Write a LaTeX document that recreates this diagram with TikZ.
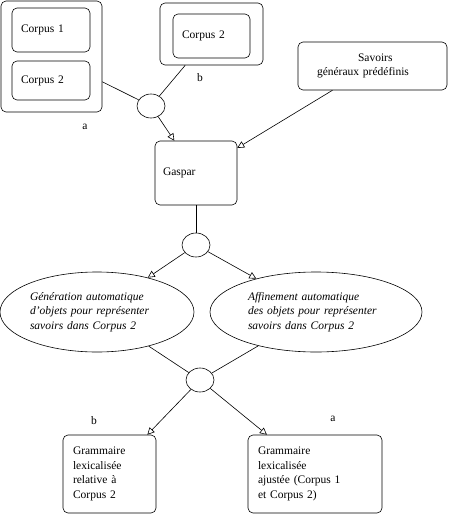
\documentclass[tikz,border=0pt]{standalone}
\usepackage{fontspec}
\setmainfont{Liberation Serif}
\usepackage{tikz}
\usetikzlibrary{positioning}
\usetikzlibrary{calc,arrows.meta}
\usetikzlibrary{shapes.geometric}

\begin{document}
\begin{tikzpicture}[x=1pt, y=-1pt,
    every node/.style={font=\fontsize{11.5}{14.5}\selectfont},
    box/.style={draw, rounded corners=5pt, line width=0.6pt, inner sep=0pt, align=left},
    joint/.style={draw, ellipse, minimum width=28pt, minimum height=24pt, inner sep=0pt, line width=0.6pt},
    task/.style={draw, ellipse, inner sep=0pt, minimum height=80pt, align=left,
        line width=0.6pt, font=\fontsize{11.5}{14.5}\selectfont\itshape},
    flow/.style={line width=0.6pt, -{Triangle[open, length=7pt, width=7pt]}},
    link/.style={line width=0.6pt}]
    \useasboundingbox (0,0) rectangle (453,516);

    % Draw corpus boxes
    \node[box, minimum width=101pt, minimum height=111pt] (outA) at (51.5,56.5) {};
    \node[box, minimum width=78pt, minimum height=44pt, text width=60pt] (corpA1) at (51,30) {Corpus 1};
    \node[box, minimum width=78pt, minimum height=39pt, text width=60pt] (corpA2) at (51,80.5) {Corpus 2};
    \node[box, minimum width=103pt, minimum height=62pt] (outB) at (211.5,34) {};
    \node[box, minimum width=77pt, minimum height=44pt, text width=59pt] (corpB2) at (211.5,36) {Corpus 2};
    \node (labA) at (85,127) {a};
    \node (labB) at (200,78) {b};

    % Draw knowledge and Gaspar
    \node[box, minimum width=149pt, minimum height=48pt, text width=111pt] (savoirs) at (372.5,66)
        {\hspace*{41pt}Savoirs\\généraux prédéfinis};
    \node[box, minimum width=82pt, minimum height=64pt, text width=66pt] (gaspar) at (196,173) {Gaspar};

    % Draw joints
    \node[joint] (j1) at (151,106) {};
    \node[joint] (j2) at (196,245) {};
    \node[joint] (j3) at (200,380) {};

    % Draw tasks
    \node[task, minimum width=194pt, text width=134pt] (gen) at (97,312)
        {Génération automatique\\d'objets pour représenter\\savoirs dans Corpus 2};
    \node[task, minimum width=212pt, text width=136pt] (aff) at (316,312)
        {Affinement automatique\\des objets pour représenter\\savoirs dans Corpus 2};

    % Draw grammars
    \node[box, minimum width=93pt, minimum height=78pt, text width=73pt] (gramB) at (109.5,474)
        {Grammaire\\lexicalisée\\relative à\\Corpus 2};
    \node[box, minimum width=134pt, minimum height=78pt, text width=114pt] (gramA) at (315,474)
        {Grammaire\\lexicalisée\\ajustée (Corpus 1\\et Corpus 2)};
    \node (labB2) at (94,421) {b};
    \node (labA2) at (333,419) {a};

    % Draw connectors
    \draw[link] (outA) -- (j1);
    \draw[link] (outB) -- (j1);
    \draw[flow] (j1) -- (gaspar);
    \draw[flow] (savoirs) -- (gaspar);
    \draw[link] (gaspar) -- (j2);
    \draw[flow] (j2) -- (gen);
    \draw[flow] (j2) -- (aff);
    \draw[link] (gen) -- (j3);
    \draw[link] (aff) -- (j3);
    \draw[flow] (j3) -- (gramB);
    \draw[flow] (j3) -- (gramA);
\end{tikzpicture}
\end{document}
